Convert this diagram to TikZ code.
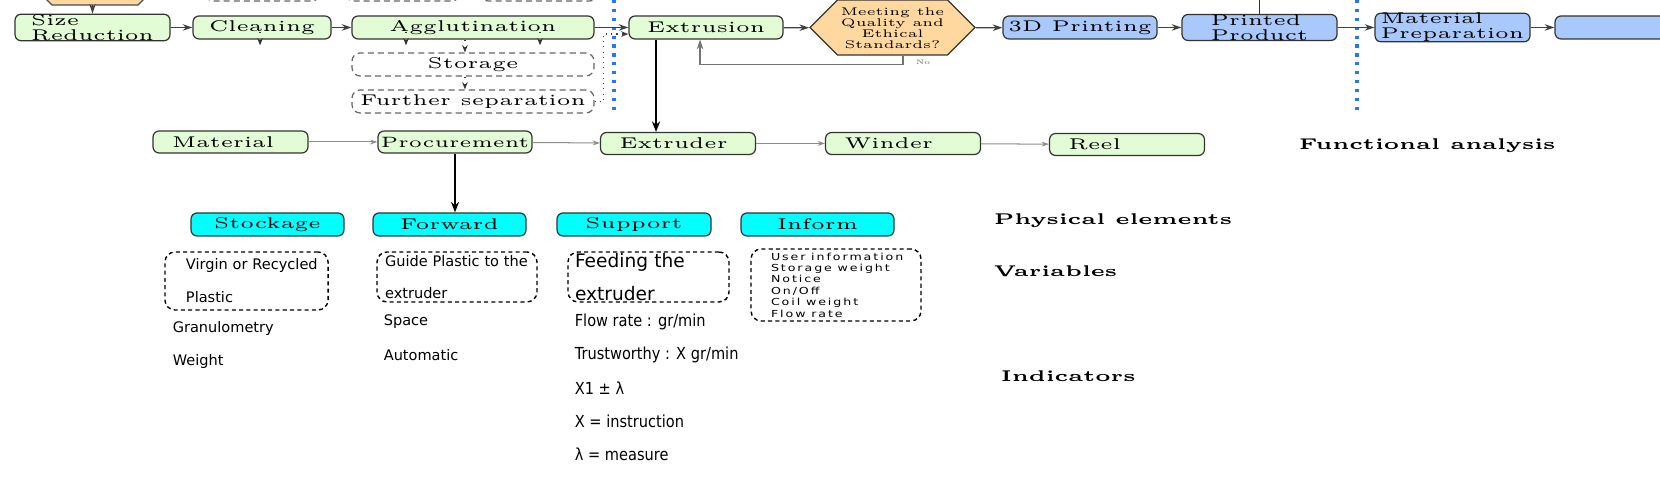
\documentclass[tikz,border=0pt]{standalone}
\usepackage{amsmath, amssymb}
\usepackage{xcolor}
\usepackage{fontspec}
\usepackage{tikz}
\usetikzlibrary{arrows.meta}

\newfontfamily\boxfont{lmroman5-regular.otf}[FakeStretch=1.3, BoldFont=lmroman5-bold.otf]
\newfontfamily\notefont{DejaVu Sans}
\newfontfamily\narrowfont{DejaVu Sans}[FakeStretch=0.88]
\newfontfamily\widefont{DejaVu Sans}[FakeStretch=1.3, LetterSpace=20]
\newcommand{\gap}{\hspace{1.4pt}}

\definecolor{partgreen}{HTML}{E2FCD6}
\definecolor{printblue}{HTML}{A9C8FB}
\definecolor{checkorange}{HTML}{FFD8A0}
\definecolor{funccyan}{HTML}{00FFFF}
\definecolor{dotblue}{HTML}{2A75F0}

\tikzset{
  stage/.style={draw=black!80, line width=0.3pt, rounded corners=1.5pt, fill=partgreen,
    minimum height=0.2cm, inner xsep=0.5pt, inner ysep=0pt, align=left,
    font=\boxfont\fontsize{3.85}{2.6}\selectfont},
  printstage/.style={stage, fill=printblue},
  partbox/.style={stage, minimum height=0.191cm, text width=1.018cm, inner xsep=0.165cm},
  funcbox/.style={stage, fill=funccyan, align=center},
  sidetask/.style={draw=black!60, line width=0.3pt, dash pattern=on 1.5pt off 1pt,
    rounded corners=2pt, minimum height=0.2cm, inner sep=0pt,
    font=\boxfont\fontsize{3.85}{2.6}\selectfont},
  notebox/.style={draw=black, line width=0.35pt, dash pattern=on 1pt off 0.8pt,
    rounded corners=2.5pt, align=left},
  notetext/.style={anchor=west, inner sep=0pt, font=\notefont\fontsize{3.6}{4}\selectfont},
  supporttext/.style={notetext, font=\narrowfont\fontsize{4.1}{5}\selectfont},
  heading/.style={anchor=west, inner sep=0pt, font=\boxfont\bfseries\fontsize{3.85}{4}\selectfont},
  flow/.style={draw=black!75, line width=0.3pt, -{Stealth[length=2.4pt,width=1.6pt]}},
  link/.style={draw=black!45, line width=0.25pt, -{Stealth[length=1.8pt,width=1.2pt]}},
  bigflow/.style={draw=black, line width=0.45pt, -{Stealth[length=2.6pt,width=2pt]}},
  branch/.style={draw=black!80, line width=0.3pt, dotted, -{Stealth[length=1.8pt,width=1.4pt]}},
  divider/.style={draw=dotblue, line width=0.8pt, dash pattern=on 0.8pt off 1.4pt},
}

\begin{document}
\begin{tikzpicture}[x=0.087cm, y=-0.087cm]
    \useasboundingbox (0,0) rectangle (166,49.4);

    % shapes cut off by the top edge
    \draw[fill=checkorange, draw=black!70, line width=0.3pt] (2.4,-2.3) -- (5.2,0.5) -- (13.8,0.5) -- (16.6,-2.3) -- (13.8,-5.1) -- (5.2,-5.1) -- cycle;
    \coordinate (sorted) at (9.25,0.5);
    \node[sidetask, minimum width=1.0cm] (taskA) at (26.25,-1.05) {};
    \node[sidetask, minimum width=1.0cm] (taskB) at (40.25,-1.05) {};
    \node[sidetask, minimum width=1.027cm] (taskC) at (53.9,-1.05) {};

    % recycling line
    \node[stage, minimum width=1.3485cm] (sizered) at (9.25,2.75) {Size\\Reduction};
    \node[stage, minimum width=1.2006cm] (cleaning) at (26.2,2.75) {Cleaning};
    \node[stage, minimum width=2.105cm, align=center] (agglutination) at (47.3,2.75) {Agglutination};
    \node[sidetask, minimum width=2.105cm] (storage) at (47.3,6.45) {Storage};
    \node[sidetask, minimum width=2.105cm] (furthersep) at (47.3,10.15) {Further separation};
    \node[stage, minimum width=1.34cm, align=center] (extrusion) at (70.6,2.75) {Extrusion};

    \draw[fill=checkorange, draw=black!80, line width=0.3pt] (81.0,2.75) -- (83.75,5.5) -- (94.75,5.5) -- (97.5,2.75) -- (94.75,0) -- (83.75,0) -- cycle;
    \node[align=center, inner sep=0pt, minimum width=1.4355cm, minimum height=0.4785cm,
      font=\boxfont\fontsize{2.75}{2.7}\selectfont] (quality) at (89.25,2.8) {Meeting the\\Quality and\\Ethical\\Standards?};
    \node[inner sep=0pt, text=black!60, font=\boxfont\fontsize{1.6}{2}\selectfont] (no) at (92.3,6.2) {No};

    \node[printstage, minimum width=1.34cm, align=center] (printing) at (108.0,2.75) {3D Printing};
    \node[printstage, minimum width=1.3485cm] (printed) at (125.95,2.75) {Printed\\Product};
    \node[printstage, minimum width=1.3485cm] (matprep) at (145.25,2.75) {Material\\Preparation};
    \node[printstage, minimum width=1.3485cm] (nextstep) at (163.25,2.75) {};

    \draw[divider] (61.4,0) -- (61.4,11.0);
    \draw[divider] (135.7,0) -- (135.7,11.0);

    \draw[flow] (sorted) -- (sizered); % sorting-size reduction
    \draw[flow] (sizered) -- (cleaning);
    \draw[flow] (cleaning) -- (agglutination);
    \draw[flow] (agglutination) -- (extrusion);
    \draw[flow] (extrusion) -- (quality);
    \draw[flow] (quality) -- (printing);
    \draw[flow] (printing) -- (printed);
    \draw[flow] (printed) -- (matprep);
    \draw[flow] (matprep) -- (nextstep);
    \draw[black!80, line width=0.3pt] (printed.north) -- ++(0,-2); % up to the top

    \draw[branch] ([xshift=-0.017cm,yshift=0.07cm]cleaning.south) -- ([xshift=-0.017cm,yshift=-0.05cm]cleaning.south);
    \draw[branch] ([xshift=-0.583cm,yshift=0.07cm]agglutination.south) -- ([xshift=-0.583cm,yshift=-0.05cm]agglutination.south);
    \draw[branch] ([xshift=0.583cm,yshift=0.07cm]agglutination.south) -- ([xshift=0.583cm,yshift=-0.05cm]agglutination.south);
    \draw[branch] ([xshift=-0.07cm]agglutination.south) -- ([xshift=-0.07cm]storage.north); % to storage
    \draw[branch] ([xshift=-0.07cm]storage.south) -- ([xshift=-0.07cm]furthersep.north);
    \draw[branch, densely dotted, draw=black!75] (furthersep.east) -- ++(0.9,0) |- ([yshift=-0.057cm]extrusion.west); % back to extrusion

    \draw[flow, draw=black!55] ([xshift=0.091cm]quality.south) -- ++(0,0.8) -| ([xshift=-0.052cm]extrusion.south); % No

    % physical elements
    \node[partbox, minimum width=1.331cm] (material) at (23.05,14.2) {Material};
    \node[partbox, minimum width=1.34cm, text width=1.3cm, inner xsep=0.02cm, align=center,
      font=\boxfont\fontsize{3.7}{2.6}\selectfont] (procurement) at (45.5,14.2) {Procurement};
    \node[partbox, minimum width=1.34cm] (extruder) at (67.8,14.35) {Extruder};
    \node[partbox, minimum width=1.34cm] (winder) at (90.3,14.35) {Winder};
    \node[partbox, minimum width=1.34cm] (reel) at (112.7,14.45) {Reel};
    \node[heading] (functional) at (129.8,14.6) {Functional analysis};

    \draw[bigflow] ([xshift=-0.435cm]extrusion.south) -- ([xshift=-0.435cm]extrusion.south |- extruder.north); % extrusion-extruder
    \draw[link] (material) -- (procurement);
    \draw[link] (procurement) -- (extruder);
    \draw[link] (extruder) -- (winder);
    \draw[link] (winder) -- (reel);

    % functions
    \node[funcbox, minimum width=1.331cm] (stockage) at (26.75,22.45) {Stockage};
    \node[funcbox, minimum width=1.331cm] (forward) at (44.95,22.45) {Forward};
    \node[funcbox, minimum width=1.34cm] (support) at (63.4,22.45) {Support};
    \node[funcbox, minimum width=1.331cm] (inform) at (81.75,22.45) {Inform};
    \draw[bigflow] (procurement.south) -- (procurement.south |- forward.north);

    \node[heading] (physical) at (99.3,22.1) {Physical elements};
    \node[heading] (variables) at (99.3,27.1) {Variables};
    \node[heading] (indicators) at (100.0,37.6) {Indicators};

    % variables and indicators
    \node[notebox, minimum height=0.505cm, text width=1.053cm, inner xsep=0.183cm, inner ysep=0pt,
      font=\notefont\fontsize{3.6}{8.2}\selectfont] (stockbox) at (24.65,28.1) {\mbox{Virgin or Recycled}\\Plastic};
    \node[notebox, minimum height=0.435cm, text width=1.252cm, inner xsep=0.07cm, inner ysep=0pt,
      font=\notefont\fontsize{3.6}{8}\selectfont] (forwardbox) at (45.7,27.7) {\mbox{Guide Plastic to the}\\extruder};
    \node[notebox, minimum height=0.435cm, text width=1.279cm, inner xsep=0.061cm, inner ysep=0pt,
      font=\notefont\fontsize{4.6}{8.2}\selectfont] (supportbox) at (64.85,27.7) {\mbox{Feeding the}\\extruder};
    \node[notebox, minimum height=0.626cm, text width=1.131cm, inner xsep=0.174cm, inner ysep=0pt,
      font=\widefont\fontsize{2.4}{2.82}\selectfont] (informbox) at (83.6,28.5) {\mbox{User\gap information}\\\mbox{Storage\gap weight}\\Notice\\On/Off\\\mbox{Coil\gap weight}\\\mbox{Flow\gap rate}};

    \node[notetext] (granulometry) at (17.2,32.8) {Granulometry};
    \node[notetext] (weight) at (17.2,36.1) {Weight};
    \node[notetext] (space) at (38.3,32.2) {Space};
    \node[notetext] (automatic) at (38.3,35.5) {Automatic};
    \node[supporttext] (flowrate) at (57.4,32.2) {Flow rate : gr/min};
    \node[supporttext] (trustworthy) at (57.4,35.5) {Trustworthy : X gr/min};
    \node[supporttext] (tolerance) at (57.4,38.8) {X1 ± λ};
    \node[supporttext] (instruction) at (57.4,42.1) {X = instruction};
    \node[supporttext] (measure) at (57.4,45.4) {λ = measure};
\end{tikzpicture}
\end{document}
